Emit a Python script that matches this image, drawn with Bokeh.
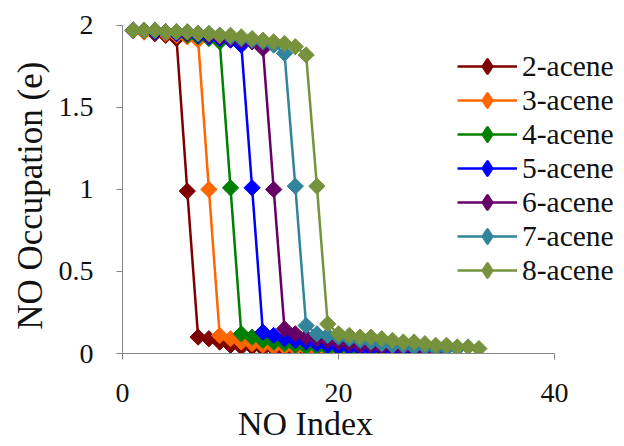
import numpy as np
from bokeh.plotting import figure
from bokeh.models import FixedTicker, Range1d
from bokeh.embed import file_html
from bokeh.resources import INLINE

series_names = ["2-acene", "3-acene", "4-acene", "5-acene", "6-acene", "7-acene", "8-acene"]
series_colors = ["#7F0000", "#FF6600", "#008000", "#0000FF", "#660066", "#31849B", "#76923C"]

acene2 = [1.97, 1.96, 1.95, 1.94, 1.92, 0.99,
          0.10, 0.09, 0.07, 0.05, 0.04, 0.04, 0.03, 0.03, 0.02, 0.02, 0.02, 0.02, 0.01, 0.01, 0.01]
acene3 = [1.97, 1.96, 1.96, 1.95, 1.94, 1.93, 1.91, 1.00,
          0.11, 0.09, 0.07, 0.06, 0.05, 0.04, 0.04, 0.03, 0.03, 0.02, 0.02, 0.02, 0.02, 0.01, 0.01]
acene4 = [1.97, 1.97, 1.96, 1.96, 1.95, 1.94, 1.93, 1.92, 1.90, 1.01,
          0.12, 0.10, 0.08, 0.07, 0.06, 0.05, 0.04, 0.04, 0.03, 0.03, 0.03, 0.02, 0.02, 0.02, 0.01]
acene5 = [1.97, 1.97, 1.96, 1.96, 1.95, 1.95, 1.94, 1.93, 1.92, 1.91, 1.88, 1.01,
          0.13, 0.11, 0.09, 0.08, 0.07, 0.06, 0.05, 0.04, 0.04, 0.03, 0.03, 0.03, 0.02, 0.02, 0.02]
acene6 = [1.97, 1.97, 1.97, 1.96, 1.96, 1.95, 1.95, 1.94, 1.93, 1.92, 1.91, 1.90, 1.86, 1.00,
          0.15, 0.12, 0.10, 0.09, 0.08, 0.07, 0.06, 0.05, 0.05, 0.04, 0.04, 0.03, 0.03, 0.03, 0.02]
acene7 = [1.97, 1.97, 1.97, 1.96, 1.96, 1.96, 1.95, 1.95, 1.94, 1.93, 1.92, 1.91, 1.90, 1.88, 1.83, 1.02,
          0.17, 0.12, 0.11, 0.10, 0.09, 0.08, 0.07, 0.06, 0.05, 0.05, 0.04, 0.04, 0.03, 0.03, 0.03]
acene8 = [1.97, 1.97, 1.97, 1.96, 1.96, 1.96, 1.95, 1.95, 1.94, 1.94, 1.93, 1.92, 1.91, 1.90, 1.89, 1.87, 1.82, 1.02,
          0.18, 0.12, 0.11, 0.10, 0.10, 0.09, 0.08, 0.07, 0.07, 0.06, 0.05, 0.05, 0.04, 0.04, 0.03]
all_series = [acene2, acene3, acene4, acene5, acene6, acene7, acene8]

x_ticks = [0, 20, 40]
y_ticks = [0, 0.5, 1, 1.5, 2]
y_tick_labels = {0: "0", 0.5: "0.5", 1: "1", 1.5: "1.5", 2: "2"}
x_title = "NO Index"
y_title = "NO Occupation (e)"

FONT = "Liberation Serif"
AXIS_GRAY = "#868686"
TEXT = "#111111"
NBSP = "\u00a0"

# frame: x 0 -> px 122, 40 -> px 554 (10.8 px/unit); y 0 -> px 353, 2 -> px 25 (164 px/unit)
p = figure(width=624, height=446, output_backend="svg", toolbar_location=None,
           x_range=Range1d(0, 46.48), y_range=Range1d(0, 2.03),
           min_border_left=122, min_border_right=0, min_border_top=20, min_border_bottom=93)
p.outline_line_color = None
p.xgrid.grid_line_color = None
p.ygrid.grid_line_color = None
p.background_fill_color = "white"
p.border_fill_color = "white"

for name, color, ys in zip(series_names, series_colors, all_series):
    xs = list(range(1, len(ys) + 1))
    p.line(xs, ys, line_color=color, line_width=2.5, legend_label=name)
    # zero-size diamonds: invisible in the plot (covered by the markers below),
    # but give the legend its diamond glyph
    p.scatter(xs, ys, marker="diamond", size=0, fill_color=color, line_color=color,
              line_width=3, line_join="round", legend_label=name)
    p.scatter(xs, ys, marker="square", angle=np.pi / 4, size=11.5,
              fill_color=color, line_color=color)

for ax in (p.xaxis[0], p.yaxis[0]):
    ax.axis_line_color = AXIS_GRAY
    ax.major_tick_line_color = AXIS_GRAY
    ax.minor_tick_line_color = None
    ax.major_tick_in = 0
    ax.major_tick_out = 6
    ax.major_label_text_font = FONT
    ax.major_label_text_font_size = "28px"
    ax.major_label_text_color = TEXT
    ax.axis_label_text_font = FONT
    ax.axis_label_text_font_style = "normal"
    ax.axis_label_text_color = TEXT

p.xaxis.ticker = FixedTicker(ticks=x_ticks)
p.yaxis.ticker = FixedTicker(ticks=y_ticks)
p.xaxis.bounds = (0, 40)
p.yaxis.bounds = (0, 2)
p.yaxis.major_label_overrides = y_tick_labels
p.xaxis.major_label_standoff = 24
p.yaxis.major_label_standoff = 23

# trailing no-break spaces shift the centred titles to where the reference has them
p.xaxis.axis_label = x_title + NBSP * 16
p.xaxis.axis_label_text_font_size = "34px"
p.xaxis.axis_label_standoff = 0
p.yaxis.axis_label = y_title + NBSP * 2
p.yaxis.axis_label_text_font_size = "35px"
p.yaxis.axis_label_standoff = 6

lg = p.legend[0]
lg.location = (335, 66)
lg.background_fill_alpha = 0
lg.border_line_color = None
lg.padding = 0
lg.margin = 0
lg.spacing = 0
lg.glyph_width = 60
lg.glyph_height = 34
lg.label_height = 34
lg.label_standoff = 5
lg.label_text_font = FONT
lg.label_text_font_size = "29.5px"
lg.label_text_color = TEXT

open("out.html", "w").write(file_html(p, INLINE))
